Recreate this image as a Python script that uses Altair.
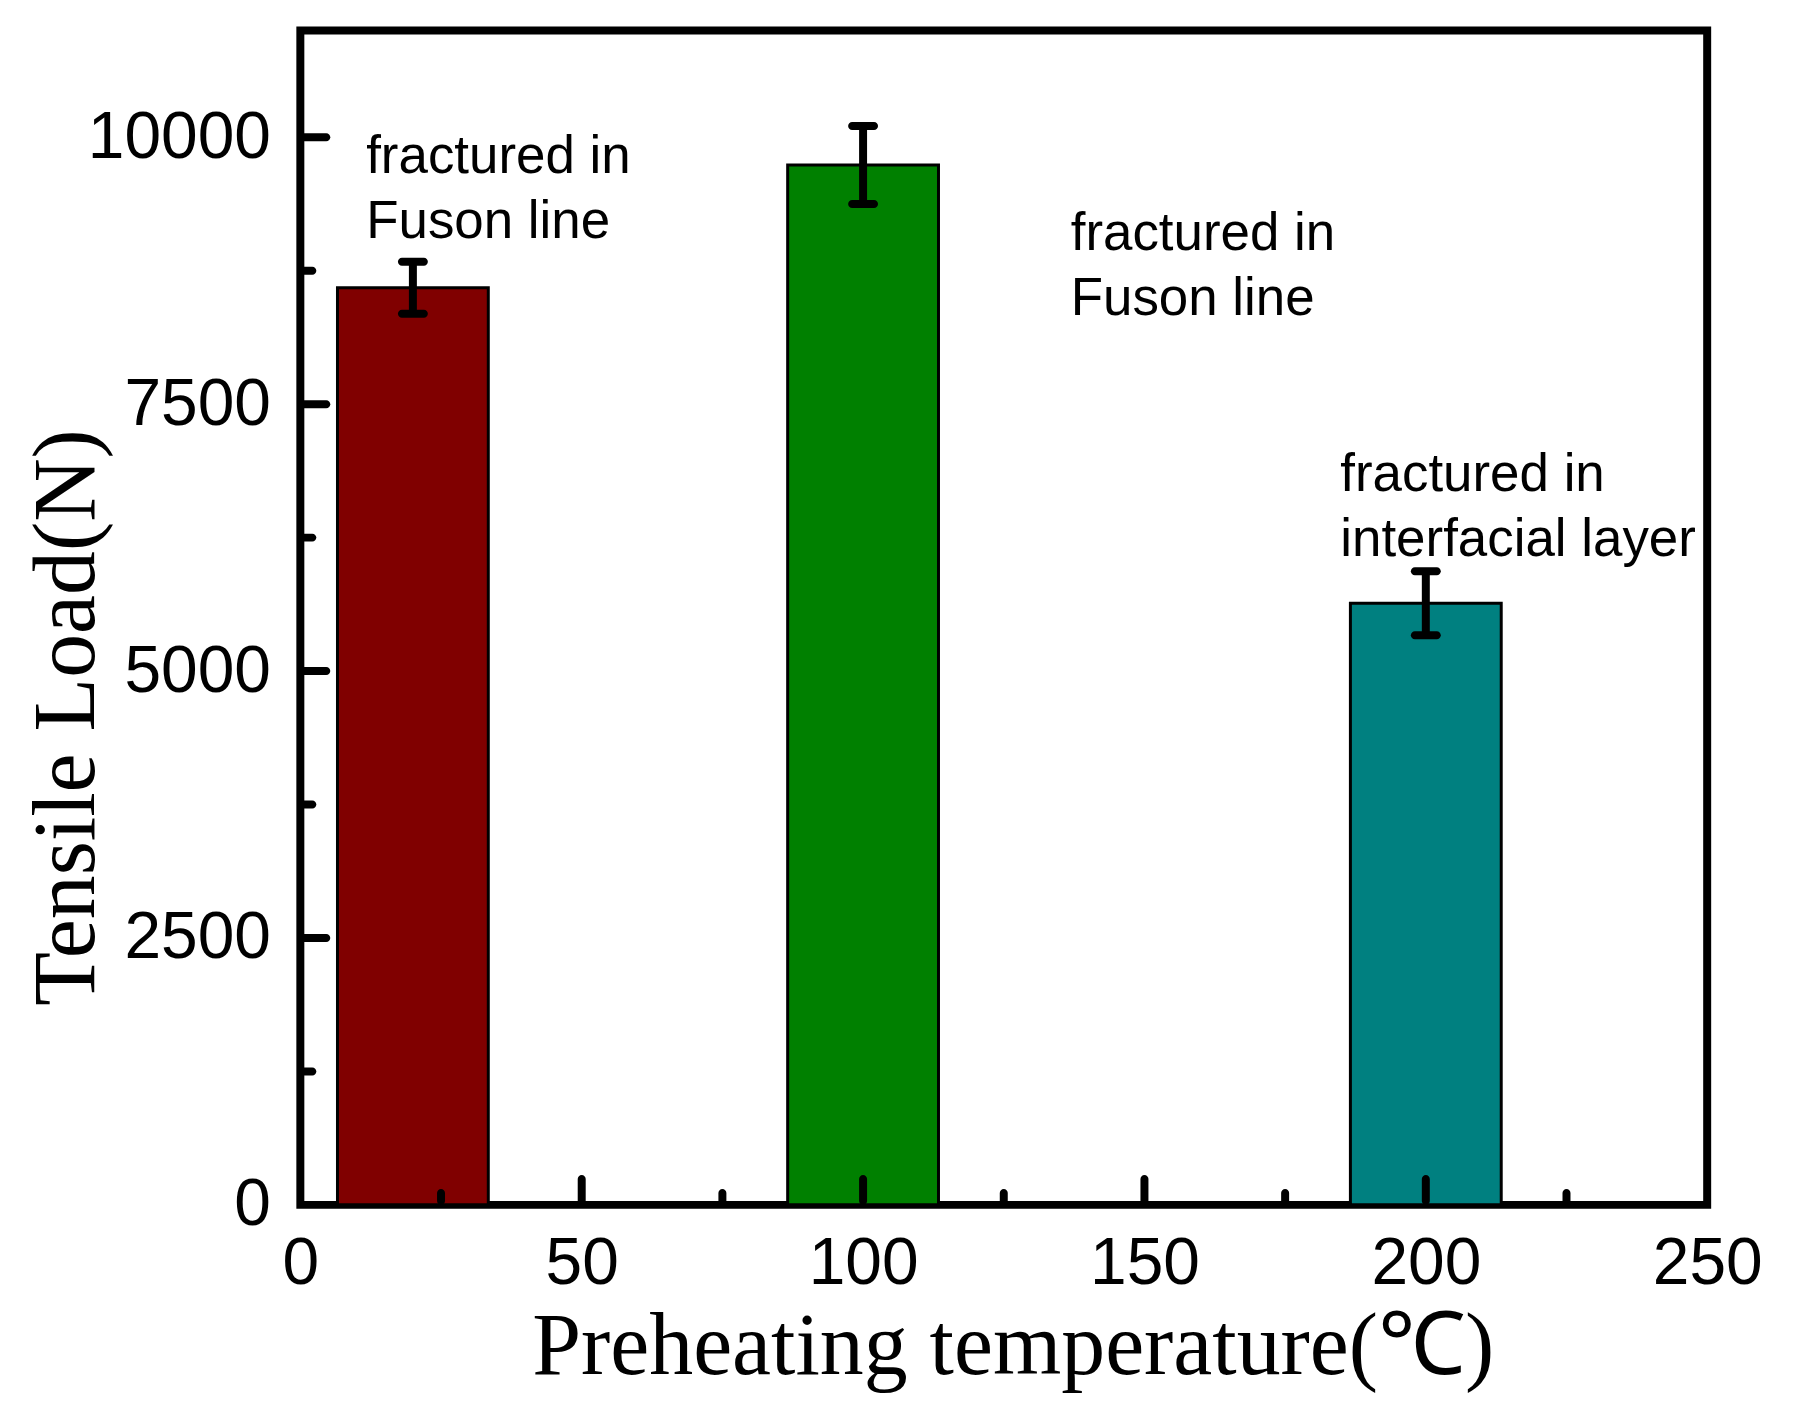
import altair as alt
import pandas as pd

# ---- data ----
temps = [20, 100, 200]                 # preheating temperature (°C)
loads = [8590, 9740, 5636]             # tensile load (N)
errors = [243, 365, 300]               # error bar half-range (N)
bar_colors = ["#800000", "#008000", "#008080"]

x_ticks = [0, 50, 100, 150, 200, 250]
x_major = [50, 100, 150, 200]
x_minor = [25, 75, 125, 175, 225]
y_ticks = [0, 2500, 5000, 7500, 10000]
y_major = [2500, 5000, 7500, 10000]
y_minor = [1250, 3750, 6250, 8750]

ann_x = [11.7, 136.9, 184.8]
ann_y = [9664, 8944, 6682]
ann_text = ["fractured in\nFuson line", "fractured in\nFuson line",
            "fractured in\ninterfacial layer"]

BAR_HALF = 13.4  # half bar width in x units

bars_df = pd.DataFrame({"temp": temps, "load": loads, "err": errors, "color": bar_colors})
ann_df = pd.DataFrame({"x": ann_x, "y": ann_y, "text": ann_text})
xmaj_df = pd.DataFrame({"v": x_major})
xmin_df = pd.DataFrame({"v": x_minor})
ymaj_df = pd.DataFrame({"v": y_major})
ymin_df = pd.DataFrame({"v": y_minor})

xs = alt.Scale(domain=[0, 250], nice=False, zero=False)
ys = alt.Scale(domain=[0, 11000], nice=False, zero=False)

LAB_FONT = "Liberation Sans"
TITLE_FONT = "Liberation Serif"

x_axis = alt.Axis(
    values=x_ticks, format="d", grid=False, ticks=False, domain=False,
    labelFont=LAB_FONT, labelFontSize=66, labelColor="black", labelPadding=27,
    labelFlush=False, labelOverlap=False, labelLimit=400,
    title="Preheating temperature(℃)", titleFont=TITLE_FONT, titleFontSize=88,
    titleFontWeight="normal", titleColor="black", titleX=714, titleY=169,
    titleAlign="center", titleBaseline="alphabetic", titleLimit=2000,
)
y_axis = alt.Axis(
    values=y_ticks, format="d", grid=False, ticks=False, domain=False,
    labelFont=LAB_FONT, labelFontSize=66, labelColor="black", labelPadding=30,
    labelFlush=False, labelOverlap=False, labelLimit=400,
    title="Tensile Load(N)", titleFont=TITLE_FONT, titleFontSize=88,
    titleFontWeight="normal", titleColor="black", titleAngle=270,
    titleX=-207, titleY=688, titleAlign="center", titleBaseline="alphabetic",
    titleLimit=2000,
)

base = alt.Chart(bars_df).transform_calculate(
    x0=f"datum.temp - {BAR_HALF}", x1=f"datum.temp + {BAR_HALF}",
    lo="datum.load - datum.err", hi="datum.load + datum.err", zero="0",
)

bars = base.mark_bar(stroke="black", strokeWidth=3).encode(
    x=alt.X("x0:Q", scale=xs, axis=x_axis),
    x2="x1:Q",
    y=alt.Y("load:Q", scale=ys, axis=y_axis),
    y2=alt.Y2("zero:Q"),
    color=alt.Color("color:N", scale=None),
)

err_line = base.mark_rule(color="black", strokeWidth=8).encode(
    x=alt.X("temp:Q", scale=xs),
    y=alt.Y("lo:Q", scale=ys),
    y2="hi:Q",
)
cap_hi = base.mark_tick(color="black", orient="horizontal", size=30, thickness=8,
                        cornerRadius=4, opacity=1).encode(
    x=alt.X("temp:Q", scale=xs),
    y=alt.Y("hi:Q", scale=ys),
)
cap_lo = base.mark_tick(color="black", orient="horizontal", size=30, thickness=8,
                        cornerRadius=4, opacity=1).encode(
    x=alt.X("temp:Q", scale=xs),
    y=alt.Y("lo:Q", scale=ys),
)

def xtick(df, length):
    return alt.Chart(df).mark_tick(color="black", orient="vertical", size=length,
                                   thickness=8, yOffset=-length / 2, opacity=1,
                                   cornerRadius=4).encode(
        x=alt.X("v:Q", scale=xs),
        y=alt.YDatum(0, scale=ys),
    )

def ytick(df, length):
    return alt.Chart(df).mark_tick(color="black", orient="horizontal", size=length,
                                   thickness=8, xOffset=length / 2, opacity=1,
                                   cornerRadius=4).encode(
        y=alt.Y("v:Q", scale=ys),
        x=alt.XDatum(0, scale=xs),
    )

ann = alt.Chart(ann_df).mark_text(
    align="left", baseline="alphabetic", font=LAB_FONT, fontSize=53,
    lineHeight=65, lineBreak="\n", color="black",
).encode(
    x=alt.X("x:Q", scale=xs),
    y=alt.Y("y:Q", scale=ys),
    text="text:N",
)

chart = alt.layer(
    bars, err_line, cap_hi, cap_lo,
    xtick(xmaj_df, 30), xtick(xmin_df, 16),
    ytick(ymaj_df, 30), ytick(ymin_df, 16),
    ann,
).properties(
    width=1410, height=1177,
    autosize=alt.AutoSizeParams(type="none"),
    padding={"left": 293, "top": 21, "right": 80, "bottom": 190},
    background="white",
).configure_view(stroke="black", strokeWidth=8)

chart.save("out.html", embed_options={"renderer": "svg", "actions": False})
